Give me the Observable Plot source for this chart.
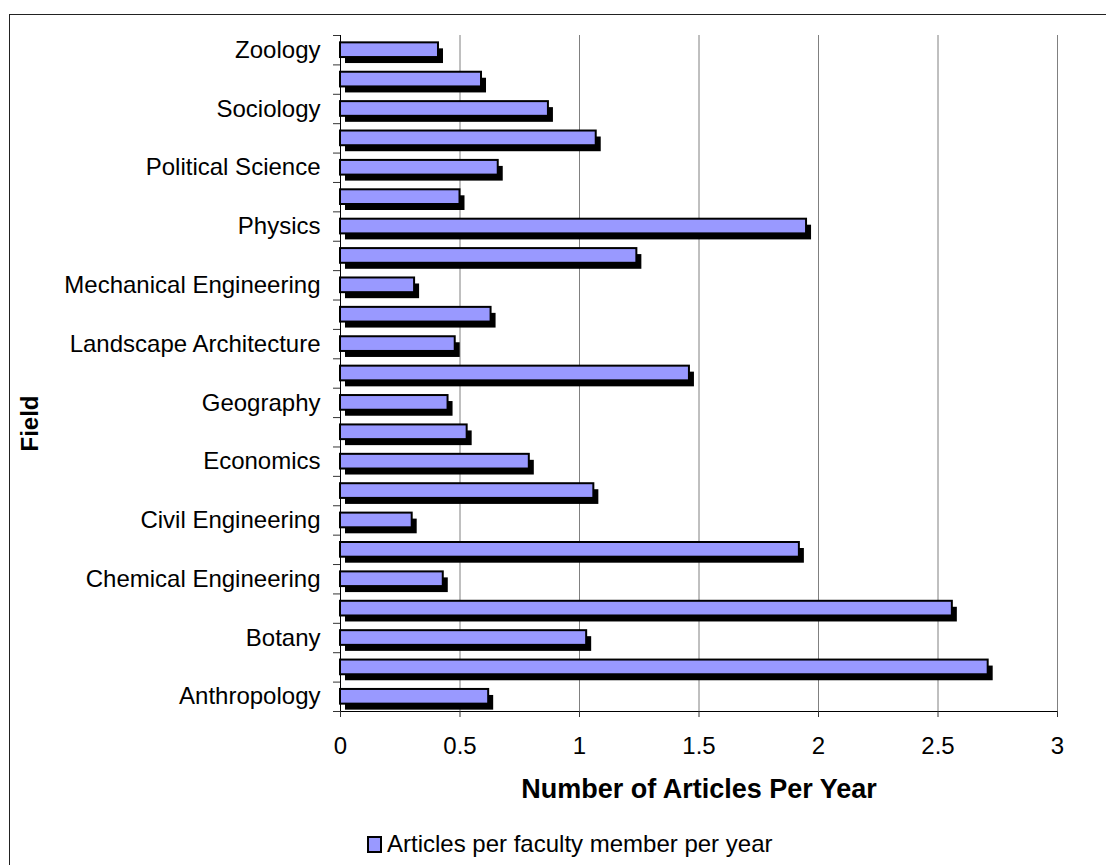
<!DOCTYPE html>
<html>
<head>
<meta charset="utf-8">
<script src="https://cdn.jsdelivr.net/npm/d3@7"></script>
<script src="https://cdn.jsdelivr.net/npm/@observablehq/plot@0.6"></script>
<style>
  html, body { margin: 0; padding: 0; background: #fff; overflow: hidden; }
  #chart { position: relative; width: 1106px; height: 865px; font-family: "Liberation Sans", Arial, sans-serif; }
  #plot { position: absolute; left: 0; top: 0; }
  #border { position: absolute; left: 9px; top: 14px; width: 1200px; height: 1000px;
            border-left: 1.5px solid #222; border-top: 1.5px solid #222; pointer-events: none; }
  #legend { position: absolute; left: 367px; top: 830px; height: 28px; display: flex; align-items: center;
            font-size: 24px; color: #000; white-space: nowrap; }
  #legend .swatch { width: 11px; height: 13px; background: #9999FF; border: 2px solid #000; margin-right: 5px; }
</style>
</head>
<body>
<div id="chart">
  <div id="plot"></div>
  <div id="border"></div>
  <div id="legend"><span class="swatch"></span><span id="legend-text"></span></div>
</div>
<script>
// Fields, listed bottom to top as they appear on the category axis
const fields = [
  "Anthropology", "Biochemistry", "Botany", "Cell Biology", "Chemical Engineering",
  "Chemistry", "Civil Engineering", "Computer Science", "Economics", "Electrical Engineering",
  "Geography", "Geology", "Landscape Architecture", "Mathematics", "Mechanical Engineering",
  "Microbiology", "Physics", "Plant Pathology", "Political Science", "Psychology",
  "Sociology", "Statistics", "Zoology"
];

// Articles per faculty member per year, one per field
const articles = [
  0.62, 2.71, 1.03, 2.56, 0.43,
  1.92, 0.30, 1.06, 0.79, 0.53,
  0.45, 1.46, 0.48, 0.63, 0.31,
  1.24, 1.95, 0.50, 0.66, 1.07,
  0.87, 0.59, 0.41
];

const xTicks = [0, 0.5, 1, 1.5, 2, 2.5, 3];
const xTitle = "Number of Articles Per Year";
const yTitle = "Field";
const seriesName = "Articles per faculty member per year";

// Only every other category gets a printed label
const labelled = new Set(fields.filter((d, i) => i % 2 === 0));

const data = fields.map((field, i) => ({field, value: articles[i]}));

const W = 1106, H = 820;
const mTop = 35, mBottom = 109, mLeft = 340, mRight = 49;
const step = (H - mTop - mBottom) / fields.length;
const yDomain = fields.slice().reverse();

const chart = Plot.plot({
  width: W,
  height: H,
  marginTop: mTop,
  marginBottom: mBottom,
  marginLeft: mLeft,
  marginRight: mRight,
  style: {fontFamily: '"Liberation Sans", Arial, sans-serif', fontSize: "24px", color: "#000", background: "transparent", overflow: "visible"},
  x: {domain: [0, 3]},
  y: {domain: yDomain, paddingInner: 0.5, paddingOuter: 0.25, round: false},
  marks: [
    // vertical gridlines
    Plot.ruleX(xTicks.filter(d => d > 0), {stroke: "#808080", strokeWidth: 1}),
    // drop shadow behind each bar
    Plot.barX(data, {x: "value", y: "field", fill: "#000", dx: 5, dy: 6}),
    // the bars
    Plot.barX(data, {x: "value", y: "field", fill: "#9999FF", stroke: "#000", strokeWidth: 2}),
    // axis lines
    Plot.ruleX([0], {stroke: "#000", strokeWidth: 1}),
    Plot.frame({anchor: "bottom", stroke: "#000", strokeWidth: 1}),
    Plot.axisX({ticks: xTicks, tickSize: 6, tickPadding: 19, tickFormat: d => String(d), fontSize: 24, fill: "#000", stroke: "#333", label: null}),
    // category tick marks sit on the band boundaries
    Plot.axisY({ticks: yDomain, tickSize: 7, tickFormat: () => "", dy: step / 2, stroke: "#333", label: null}),
    Plot.axisY({ticks: [yDomain[0]], tickSize: 7, tickFormat: () => "", dy: -step / 2, stroke: "#333", label: null}),
    // category labels
    Plot.axisY({ticks: yDomain, tickSize: 0, tickPadding: 20, tickFormat: d => labelled.has(d) ? d : "", fontSize: 24, fill: "#000", label: null}),
    // axis titles
    Plot.text([xTitle], {frameAnchor: "bottom", dy: 78, text: d => d, textAnchor: "middle", lineAnchor: "middle", fontWeight: "bold", fontSize: 27, fill: "#000"}),
    Plot.text([yTitle], {frameAnchor: "left", dx: -310, dy: 50, text: d => d, textAnchor: "middle", lineAnchor: "middle", rotate: -90, fontWeight: "bold", fontSize: 24, fill: "#000"})
  ]
});

document.getElementById("plot").append(chart);
document.getElementById("legend-text").textContent = seriesName;
</script>
</body>
</html>
